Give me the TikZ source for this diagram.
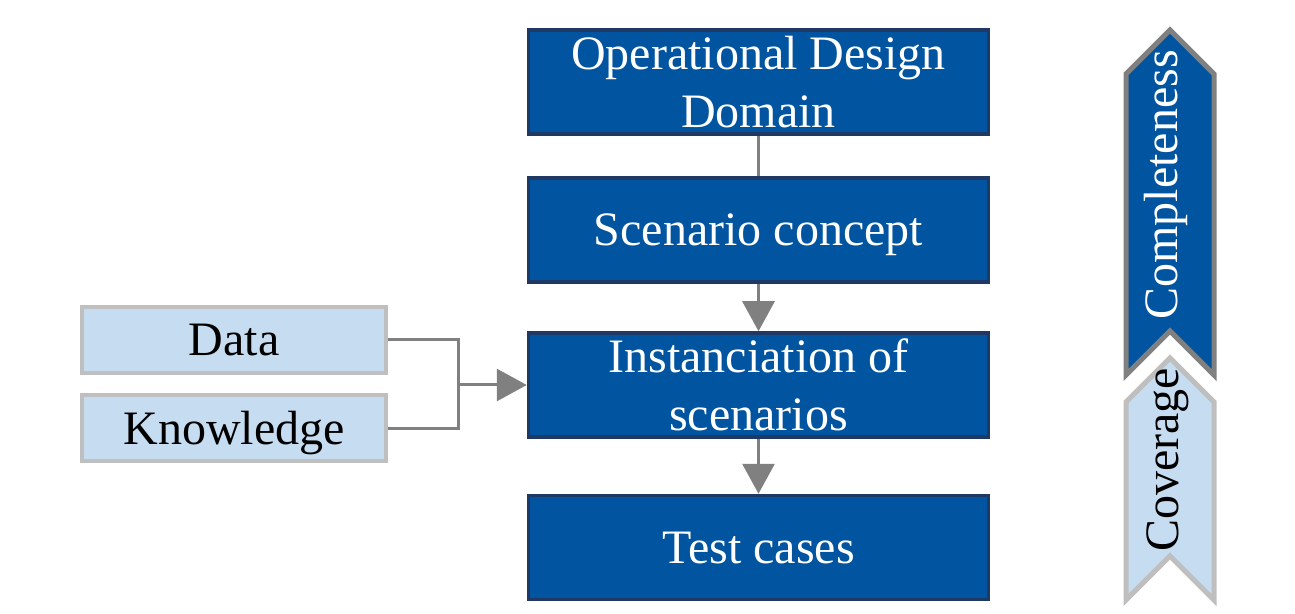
\documentclass[tikz,border=0pt]{standalone}
\usepackage{fontspec}
\setmainfont{Liberation Serif}
\usepackage{xcolor}
\usepackage{tikz}
\usetikzlibrary{positioning, arrows.meta}

\definecolor{stageblue}{HTML}{0054A0}
\definecolor{stageedge}{HTML}{1F3864}
\definecolor{srcblue}{HTML}{C6DDF1}
\definecolor{srcedge}{HTML}{BFBFBF}
\definecolor{linkgray}{HTML}{808080}

\begin{document}
\begin{tikzpicture}[x=0.5pt, y=-0.5pt,
    stage/.style={draw=stageedge, fill=stageblue, line width=1.75pt, rectangle, minimum width=230pt, minimum height=52pt, text=white, align=center, font=\fontsize{24}{29}\selectfont, inner sep=0pt, text depth=0pt},
    source/.style={draw=srcedge, fill=srcblue, line width=2pt, rectangle, minimum width=152pt, minimum height=33pt, align=center, font=\fontsize{24}{29}\selectfont, inner sep=0pt, text depth=0pt},
    link/.style={draw=linkgray, line width=1.5pt},
    tip/.style={-{Triangle[length=15pt, width=16pt]}}]
    \useasboundingbox (0,0) rectangle (1295,614);

    % Nodes
    \node[stage] (odd) at (758.5,82) {Operational Design\\Domain};
    \node[stage] (concept) at (758.5,230) {Scenario concept};
    \node[stage] (inst) at (758.5,385) {Instanciation of\\scenarios};
    \node[stage] (test) at (758.5,547.5) {Test cases};
    \node[source] (data) at (234,340) {Data};
    \node[source] (know) at (234,428) {Knowledge};
    \coordinate (join) at (458,385);

    % Chevrons
    \filldraw[fill=stageblue, draw=linkgray, line width=2.5pt] (1126,74) -- (1170,30) -- (1214,74) -- (1214,375) -- (1170,331) -- (1126,375) -- cycle;
    \filldraw[fill=srcblue, draw=srcedge, line width=2.5pt] (1126,402) -- (1170,358) -- (1214,402) -- (1214,600) -- (1170,556) -- (1126,600) -- cycle;
    \node[rotate=90, text=white, font=\fontsize{24}{29}\selectfont] (compl) at (1166,185) {Completeness};
    \node[rotate=90, font=\fontsize{24}{29}\selectfont] (cover) at (1168,460) {Coverage};

    % Connections
    \draw[link] (odd) -- (concept);
    \draw[link, tip] (concept) -- (inst);
    \draw[link, tip] (inst) -- (test);
    \draw[link] (data.east) -| (join);
    \draw[link] (know.east) -| (join);
    \draw[link, tip] (join) -- (inst.west);
\end{tikzpicture}
\end{document}
